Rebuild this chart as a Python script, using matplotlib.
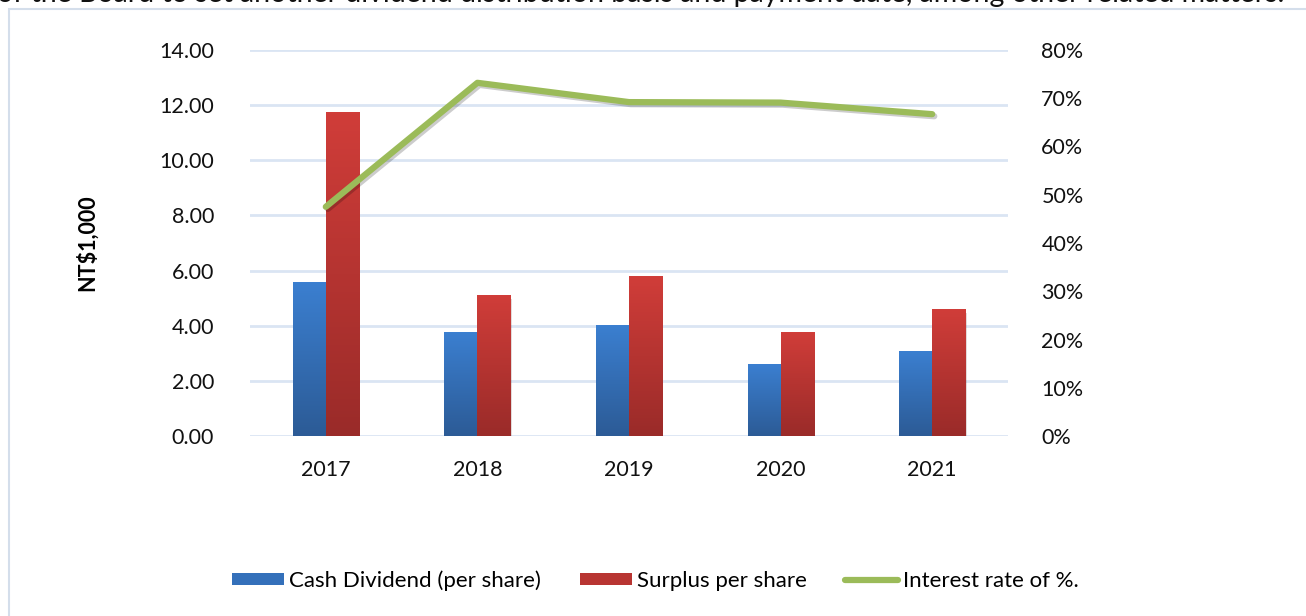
import numpy as np
import matplotlib
matplotlib.use("Agg")
import matplotlib.pyplot as plt
import matplotlib.patheffects as pe
from matplotlib.patches import Rectangle, Patch
from matplotlib.lines import Line2D
from matplotlib.ticker import FuncFormatter

plt.rcParams["font.family"] = ["Lato", "DejaVu Sans"]

years = ["2017", "2018", "2019", "2020", "2021"]
cash_dividend = [5.55, 3.74, 3.99, 2.58, 3.05]
surplus = [11.72, 5.11, 5.77, 3.74, 4.57]
interest_rate = [47.5, 73.2, 69.2, 69.1, 66.7]

left_ticks = [0, 2, 4, 6, 8, 10, 12, 14]
right_ticks = [0, 10, 20, 30, 40, 50, 60, 70, 80]

blue_top, blue_bot = "#3b7fd0", "#2c5b96"
red_top, red_bot = "#d03d39", "#9a2b29"
green = "#9bbb59"
grid_c = "#dae5f3"

fig = plt.figure(figsize=(13.06, 6.16), dpi=100)
W, H = 1306, 616
ax = fig.add_axes([250 / W, 1 - 436 / H, (1008 - 250) / W, (436 - 50) / H])

# outer chart border (runs off the right/bottom edge)
fig.patches.append(Rectangle((9 / W, -0.05), 1.1, 1 - 9 / H + 0.05, transform=fig.transFigure,
                             fill=False, edgecolor="#d4deeb", linewidth=1.5))
fig.text(-0.002, 1 - 2 / H,
         "of the Board to set another dividend distribution basis and payment date, among other related matters.",
         fontsize=20.5, va="baseline", ha="left", color="#111111")

x = np.arange(len(years))
bw = 0.218
shadow = [pe.SimplePatchShadow(offset=(1, -2.5), alpha=0.15), pe.Normal()]
b1 = ax.bar(x - bw / 2, cash_dividend, bw, color=blue_top, zorder=2, path_effects=shadow)
b2 = ax.bar(x + bw / 2, surplus, bw, color=red_top, zorder=2, path_effects=shadow)


def grad(bars, top, bot):
    c1 = np.array(matplotlib.colors.to_rgb(top))
    c2 = np.array(matplotlib.colors.to_rgb(bot))
    t = np.linspace(0, 1, 100)[:, None]
    img = (c1 * (1 - t) + c2 * t)[:, None, :]
    for p in bars:
        x0, w, h = p.get_x(), p.get_width(), p.get_height()
        ax.imshow(img, extent=[x0, x0 + w, 0, h], aspect="auto", zorder=3, interpolation="bilinear")


grad(b1, blue_top, blue_bot)
grad(b2, red_top, red_bot)

ax.set_xlim(-0.5, len(years) - 0.5)
ax.set_ylim(0, 14)
ax.set_yticks(left_ticks)
ax.yaxis.set_major_formatter(FuncFormatter(lambda v, p: f"{v:.2f}"))
ax.set_xticks(x)
ax.set_xticklabels(years)
ax.grid(axis="y", color=grid_c, linewidth=2)
ax.set_axisbelow(True)
for s in ax.spines.values():
    s.set_visible(False)
ax.tick_params(length=0, labelsize=15.5, colors="#111111")
ax.tick_params(axis="y", pad=26)
ax.tick_params(axis="x", pad=17)
ax.set_ylabel("NT$1,000", fontsize=15.5, fontweight="bold", labelpad=44)

ax2 = ax.twinx()
ax2.plot(x, interest_rate, color=green, linewidth=4.5, solid_capstyle="round",
         path_effects=[pe.SimpleLineShadow(offset=(1.5, -1.5), alpha=0.2), pe.Normal()])
ax2.set_ylim(0, 80)
ax2.set_yticks(right_ticks)
ax2.yaxis.set_major_formatter(FuncFormatter(lambda v, p: f"{v:.0f}%"))
for s in ax2.spines.values():
    s.set_visible(False)
ax2.tick_params(length=0, labelsize=15.5, colors="#111111", pad=24)

handles = [Patch(facecolor="#3470ba", label="Cash Dividend (per share)"),
           Patch(facecolor="#b83532", label="Surplus per share"),
           Line2D([], [], color=green, linewidth=4.5, solid_capstyle="round", label="Interest rate of %.")]
fig.legend(handles=handles, loc="center", bbox_to_anchor=(655 / W, 1 - 581 / H), ncol=3,
           frameon=False, fontsize=16, handlelength=2.35, handleheight=0.45,
           handletextpad=0.22, columnspacing=1.75)

fig.savefig("out.png", dpi=100)
